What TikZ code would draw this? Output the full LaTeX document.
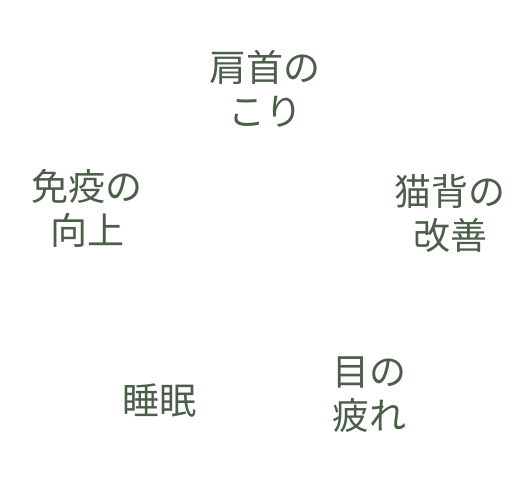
\documentclass[tikz,border=0pt]{standalone}
\usepackage{fontspec}
\newfontfamily\jp{Noto Sans CJK JP}
\definecolor{lbl}{HTML}{4A5E48}
\begin{document}
\begin{tikzpicture}[x=1pt,y=-1pt,
  lab/.style={text=lbl,align=center,inner sep=0pt,font=\jp\fontsize{37}{44}\selectfont}]
\useasboundingbox (0,0) rectangle (531,481);
\node[lab] (a) at (265,89) {肩首の\\こり};
\node[lab] (b) at (87,208) {免疫の\\向上};
\node[lab] (c) at (450,213) {猫背の\\改善};
\node[lab] (d) at (159,401) {睡眠};
\node[lab] (e) at (369,395) {目の\\疲れ};
\end{tikzpicture}
\end{document}
